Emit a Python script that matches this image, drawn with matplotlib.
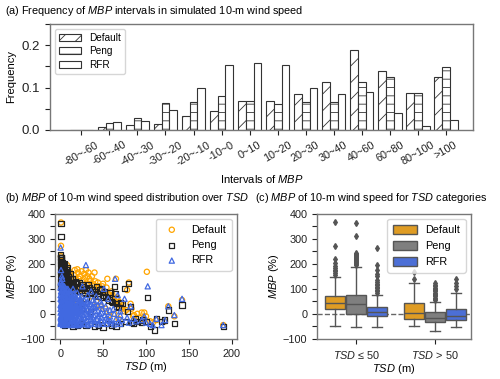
import matplotlib
matplotlib.use("Agg")

import matplotlib.pyplot as plt
import numpy as np
from matplotlib.patches import Patch
from matplotlib.ticker import MultipleLocator

plt.rcParams["font.family"] = ["Liberation Sans", "DejaVu Sans"]
plt.rcParams["mathtext.fontset"] = "custom"
plt.rcParams["mathtext.it"] = "Liberation Sans:italic"
plt.rcParams["mathtext.rm"] = "Liberation Sans"
plt.rcParams["font.size"] = 8
plt.rcParams["hatch.linewidth"] = 0.6

# ---- (a) frequency of MBP intervals ----
intervals = ["-80~-60", "-60~-40", "-40~-30", "-30~-20", "-20~-10", "-10~0", "0~10",
             "10~20", "20~30", "30~40", "40~60", "60~80", "80~100", ">100"]
freq_default = [0.0, 0.008, 0.012, 0.015, 0.034, 0.045, 0.069, 0.069, 0.084, 0.113,
                0.189, 0.138, 0.088, 0.126]
freq_peng = [0.001, 0.017, 0.029, 0.064, 0.066, 0.080, 0.069, 0.062, 0.067, 0.067,
             0.112, 0.124, 0.087, 0.148]
freq_rfr = [0.0, 0.019, 0.021, 0.048, 0.098, 0.152, 0.157, 0.152, 0.098, 0.084,
            0.090, 0.040, 0.010, 0.024]

# ---- (b) scatter of MBP vs TSD ----
tsd_default = [1, 1, 1, 2, 8, 4, 12, 17, 20, 25, 28, 30, 32, 33, 35, 38, 40, 43, 45, 48,
               50, 52, 55, 58, 60, 62, 65, 67, 70, 72, 75, 78, 80, 82, 85, 90, 95, 98,
               100, 101, 105, 108, 112, 122, 126, 133, 142, 190, 3, 5, 10, 15, 20, 25,
               6, 10, 14, 22, 27, 36, 42, 47, 53, 57, 63, 68, 2, 7, 18, 24,
               9, 11, 13, 16, 18, 21, 23, 26, 29, 31, 34, 37, 39, 41, 44, 46, 49, 51,
               54, 56, 59, 61, 64, 66, 69, 73, 77, 83, 86, 92, 97]
mbp_default = [365, 272, 230, 210, 195, 180, 165, 175, 178, 170, 160, 175, 150, 165, 130,
               120, 165, 105, 110, 95, 120, 85, 140, 75, 90, 60, 140, 55, 30, 20, 10, 95,
               125, 40, -10, 0, 5, 5, -10, 168, -30, -35, -25, -30, 30, -10, 55, -45,
               100, 60, 80, 120, 50, 100, 140, 130, 90, 140, 80, 70, 50, 30, 20, -5, 0,
               -20, 150, 110, 95, 115,
               150, 160, 145, 155, 140, 165, 150, 135, 145, 120, 140, 150, 110, 130, 125,
               100, 110, 90, 105, 80, 65, 75, 50, 65, 45, 35, 15, 20, -5, -15, -20]

tsd_peng = [1, 1, 0.5, 1, 1.5, 2, 2.5, 1, 3, 4, 2, 5, 3, 6, 8, 7, 10, 12, 9, 14, 15,
            18, 20, 22, 25, 27, 30, 33, 35, 38, 40, 42, 45, 48, 50, 52, 55, 58, 60, 63,
            65, 68, 70, 75, 78, 80, 82, 85, 88, 95, 100, 102, 105, 110, 112, 118, 122,
            126, 133, 142, 190, 5, 10, 15, 20, 25, 30, 40, 45, 50, 55, 60, 65, 70,
            0.5, 1, 1.5, 2, 2.5, 3, 0.5, 1, 4, 5, 6, 7, 8, 9, 11, 13, 0.5, 3, 5, 6,
            2, 5, 8, 3, 12, 6, 18, 25, 30, 35,
            0.3, 0.8, 1.3, 1.8, 2.3, 0.3, 0.8, 1.3, 1.8, 2.8, 3.3, 3.8, 4.3, 4.8, 5.5,
            6.5, 7.5, 8.5, 9.5, 10.5, 11.5, 13, 14, 16, 17, 19, 21, 23, 26, 28, 31, 34,
            37, 41, 44, 46, 49, 53, 57, 61, 64, 66, 72, 76, 83, 90, 96]
mbp_peng = [362, 310, 237, 225, 215, 205, 195, 185, 175, 165, 160, 150, 140, 130, 185,
            120, 150, 140, 110, 115, 100, 130, 105, 125, 95, 110, 100, 115, 85, 95, 75,
            110, 80, 100, 65, 90, 60, 85, 50, 110, 40, 25, 45, 100, 10, 120, 30, -40,
            -20, -35, -30, 65, -50, -65, -20, -30, -25, 15, -40, 35, -50, -45, -40,
            -50, -45, -40, -45, -50, -45, -55, -40, -45, -50, -40, 200, 170, 150, 130,
            120, 110, 140, 115, 195, 180, 160, 145, 130, 170, 120, 100, 105, 205, 120,
            100, 50, 30, 70, 90, 60, -20, 40, 20, 60, 10,
            225, 210, 190, 175, 150, 160, 130, 100, 225, 185, 155, 130, 110, 200, 165,
            140, 175, 115, 135, 105, 160, 125, 140, 110, 95, 120, 100, 90, 115, 85, 95,
            105, 80, 90, 70, 95, 75, 70, 55, 45, 80, 30, 40, -30, -35, -30, -25]

tsd_rfr = [0.5, 0.5, 0.8, 1, 1, 1.2, 1.5, 1.5, 2, 2, 2, 2.5, 2.5, 3, 3, 3, 3.5, 4, 4,
           4.5, 5, 5, 5.5, 6, 6, 6.5, 7, 7, 7.5, 8, 8, 9, 9, 10, 10, 10.5, 11, 11, 12,
           12, 13, 13, 14, 14, 15, 15, 16, 16, 17, 17, 18, 18, 19, 20, 20, 21, 22, 22,
           23, 24, 24, 25, 26, 26, 27, 28, 28, 29, 30, 30, 31, 32, 32, 33, 34, 35, 35,
           36, 37, 38, 38, 39, 40, 41, 42, 43, 44, 45, 46, 47, 48, 49, 50, 51, 52, 53,
           55, 56, 58, 60, 62, 64, 65, 67, 68, 70, 72, 75, 78, 80, 82, 85, 88, 95, 98,
           100, 102, 105, 108, 112, 118, 122, 126, 133, 142, 190, 0.5, 1, 2, 1,
           1, 2, 3, 4, 5, 6, 7, 8, 9, 10, 11, 12, 13, 14, 15, 16, 18, 20, 22, 25,
           1.5, 2.5, 3.5, 4.5, 5.5, 6.5, 7.5, 8.5, 9.5, 11, 13, 15, 17, 19, 21, 24,
           0.5, 1, 2, 3, 4, 5, 6, 8, 10, 12, 14, 17, 20, 23, 27, 31, 36, 41]
mbp_rfr = [60, 20, -10, 40, 90, -30, 10, 70, 0, 50, -40, 25, 110, -20, 80, 35, 5, 60,
           -35, 20, 45, -10, 95, 0, 30, -25, 55, 15, -40, 75, 5, 35, -15, 60, -30, 15,
           90, 40, -5, -45, 25, 65, -20, 5, 45, 100, -35, 10, 70, 30, -10, -45, 50, 15,
           85, -25, 40, 0, -40, 60, 20, -15, 35, 110, -5, -35, 55, 10, 195, 30, -25,
           75, 0, -45, 40, -10, 15, 90, -30, 25, 55, -5, -40, 10, 70, -20, 35, -35, 0,
           50, -15, 20, -40, 100, -5, 30, -25, 60, -10, -35, 20, 140, -20, 75, -30, 10,
           -25, 60, -15, -35, 30, -20, -30, -25, -10, -35, 110, -40, -45, -20, -45,
           -25, 30, -5, 60, -45, 265, 175, 150, 130,
           -20, -5, 10, 25, 40, 55, 70, 85, 100, 20, 0, -15, 35, 50, 65, 80, -30, 5,
           -45, 15, 30, 45, 60, 75, -10, 5, 20, 35, 50, 65, -25, -10, 5, 20, 35, 50,
           -40, -30, 120, 100, 80, 110, 65, 95, 55, 85, 40, 75, 25, 60, 15, 45, 0, 30]

# dense core of the RFR cloud (small TSD)
tsd_rfr_core = [0.5, 0.5, 0.5, 0.5, 0.5, 0.5, 0.5, 1.5, 1.5, 1.5, 1.5, 1.5, 1.5,
                2.5, 2.5, 2.5, 2.5, 2.5, 2.5, 2.5, 3.5, 3.5, 3.5, 3.5, 3.5, 3.5,
                4.5, 4.5, 4.5, 4.5, 4.5, 4.5, 6, 6, 6, 6, 6, 6, 6,
                7.5, 7.5, 7.5, 7.5, 7.5, 7.5, 9, 9, 9, 9, 9, 9, 11, 11, 11, 11, 11, 11,
                13, 13, 13, 13, 13, 13, 13, 16, 16, 16, 16, 16, 16, 19, 19, 19, 19, 19, 19,
                22, 22, 22, 22, 22, 25, 25, 25, 25, 25, 28, 28, 28, 28, 32, 32, 32, 32,
                36, 36, 36, 36, 40, 40, 40, 44, 44, 44, 48, 48, 48, 54, 54, 54, 58, 58,
                63, 63, 70, 70]
mbp_rfr_core = [-35, -15, 5, 35, 75, 105, 125, -40, -20, 30, 55, 85, 115,
                -30, -5, 15, 45, 65, 95, 140, -45, -25, 25, 50, 70, 100,
                -38, -5, 10, 40, 80, 110, -42, -18, 8, 28, 48, 68, 88,
                -30, -8, 22, 40, 62, 100, -44, -25, 0, 18, 50, 72, -38, -12, 8, 28, 48, 68,
                -42, -28, -8, 15, 35, 50, 82, -40, -22, -2, 22, 40, 58, -44, -30, -5, 5, 32, 65,
                -38, -15, 10, 25, 52, -42, -28, 5, 45, 70, -40, -18, 22, 38, -42, -12, 18, 50,
                -38, -20, 5, 38, -28, 25, 48, -42, -10, 12, -30, 5, 40, -40, -15, 8, -28, 15,
                -42, 0, -40, -5]

# ---- (c) box statistics of MBP by TSD category ----
categories = ["$TSD$ ≤ 50", "$TSD$ > 50"]
series = ["Default", "Peng", "RFR"]
box_q1 = [[20, -20], [-2, -32], [-7, -26]]
box_med = [[44, 4], [38, -16], [8, -7]]
box_q3 = [[71, 42], [75, 6], [28, 20]]
box_lo = [[-49, -49], [-53, -68], [-53, -51]]
box_hi = [[146, 125], [187, 46], [75, 83]]
box_fliers = [
    [[366, 273, 219, 203, 190, 183, 176, 170, 163, 157], [140, 168]],
    [[363, 310, 242, 238, 234, 230, 226, 222, 218, 214, 210, 206, 202, 198, 195],
     [55, 60, 65, 70, 75, 80, 85, 90, 95, 100, 105, 110, 115, 122]],
    [[265, 195, 175, 160, 150, 135, 128, 120, 114, 108, 102, 96, 90, 84],
     [100, 110, 125, 140]],
]

c_default = "#df9c24"
c_peng = "#7f7f7f"
c_rfr = "#4c6fd6"
spine_c = "#777777"
title_fs = 7.8
label_fs = 8
tick_fs = 7.8

fig = plt.figure(figsize=(5, 3.79), dpi=100)

# ------------------------- (a) -------------------------
ax1 = fig.add_axes([0.10, 0.657, 0.846, 0.280])
x = np.arange(len(intervals))
w = 0.28
ax1.bar(x - w, freq_default, w, facecolor="white", edgecolor="#333333", hatch="//",
        linewidth=0.8, label="Default")
ax1.bar(x, freq_peng, w, facecolor="white", edgecolor="#333333", hatch="--",
        linewidth=0.8, label="Peng")
ax1.bar(x + w, freq_rfr, w, facecolor="white", edgecolor="#333333",
        linewidth=0.8, label="RFR")
ax1.set_xlim(-1.12, 13.97)
ax1.set_ylim(0, 0.25)
ax1.set_yticks([0.0, 0.1, 0.2])
ax1.set_yticklabels(["0.0", "0.1", "0.2"])
ax1.yaxis.set_minor_locator(MultipleLocator(0.05))
ax1.set_xticks(x)
ax1.set_xticklabels(intervals, rotation=30, ha="center")
ax1.set_ylabel("Frequency", fontsize=label_fs)
ax1.set_xlabel("Intervals of $MBP$", fontsize=label_fs)
ax1.legend(loc="upper left", fontsize=7.2, frameon=True, edgecolor="#cccccc",
           handlelength=2.2, borderpad=0.4, labelspacing=0.35)
fig.text(0.01, 0.972, "(a) Frequency of $MBP$ intervals in simulated 10-m wind speed",
         fontsize=title_fs, va="center")

# ------------------------- (b) -------------------------
ax2 = fig.add_axes([0.11, 0.106, 0.364, 0.330])
ax2.scatter(tsd_default, mbp_default, marker="o", s=14, facecolors="none",
            edgecolors="orange", linewidths=0.9, label="Default")
ax2.scatter(tsd_peng, mbp_peng, marker="s", s=14, facecolors="none",
            edgecolors="#222222", linewidths=0.9, label="Peng")
ax2.scatter(tsd_rfr + tsd_rfr_core, mbp_rfr + mbp_rfr_core, marker="^", s=14,
            facecolors="none", edgecolors="royalblue", linewidths=0.9, label="RFR")
ax2.set_xlim(-6, 206)
ax2.set_ylim(-100, 400)
ax2.set_xticks([0, 50, 100, 150, 200])
ax2.set_yticks([-100, 0, 100, 200, 300, 400])
ax2.yaxis.set_minor_locator(MultipleLocator(50))
ax2.set_xlabel("$TSD$ (m)", fontsize=label_fs, labelpad=1)
ax2.set_ylabel("$MBP$ (%)", fontsize=label_fs, labelpad=1)
ax2.legend(loc="upper right", fontsize=7.8, edgecolor="#cccccc", markerscale=1.0,
           handletextpad=0.8, borderpad=0.5)
fig.text(0.01, 0.478, "(b) $MBP$ of 10-m wind speed distribution over $TSD$",
         fontsize=title_fs, va="center")

# ------------------------- (c) -------------------------
ax3 = fig.add_axes([0.634, 0.106, 0.308, 0.330])
colors = [c_default, c_peng, c_rfr]
offs = [-0.267, 0.0, 0.267]
for s in range(3):
    stats = []
    pos = []
    for g in range(2):
        stats.append(dict(med=box_med[s][g], q1=box_q1[s][g], q3=box_q3[s][g],
                          whislo=box_lo[s][g], whishi=box_hi[s][g],
                          fliers=box_fliers[s][g]))
        pos.append(g + offs[s])
    ax3.bxp(stats, positions=pos, widths=0.25, patch_artist=True,
            boxprops=dict(facecolor=colors[s], edgecolor="#555555", linewidth=1.0),
            medianprops=dict(color="#555555", linewidth=1.0),
            whiskerprops=dict(color="#555555", linewidth=1.0),
            capprops=dict(color="#555555", linewidth=1.0),
            flierprops=dict(marker="d", markersize=3, markerfacecolor="#555555",
                            markeredgecolor="#555555"),
            manage_ticks=False)
ax3.axhline(0, color="#666666", linestyle="--", linewidth=1.0, zorder=0)
ax3.set_xlim(-0.5, 1.46)
ax3.set_ylim(-100, 400)
ax3.set_xticks([0, 1])
ax3.set_xticklabels(categories)
ax3.set_yticks([-100, 0, 100, 200, 300, 400])
ax3.yaxis.set_minor_locator(MultipleLocator(50))
ax3.set_xlabel("$TSD$ (m)", fontsize=label_fs, labelpad=1)
ax3.set_ylabel("$MBP$ (%)", fontsize=label_fs, labelpad=1)
handles = [Patch(facecolor=colors[i], edgecolor="#555555", label=series[i]) for i in range(3)]
ax3.legend(handles=handles, loc="upper right", fontsize=7.8, edgecolor="#cccccc",
           handlelength=2.2, handleheight=1.0, borderpad=0.5)
fig.text(0.51, 0.478, "(c) $MBP$ of 10-m wind speed for $TSD$ categories",
         fontsize=title_fs, va="center")

for ax in (ax1, ax2, ax3):
    for sp in ax.spines.values():
        sp.set_color(spine_c)
        sp.set_linewidth(1.0)
    ax.tick_params(which="both", colors="#222222", labelsize=tick_fs, length=3.5, width=0.8)
ax1.tick_params(axis="y", which="major", labelsize=9.5)

fig.savefig("out.png", dpi=100)
